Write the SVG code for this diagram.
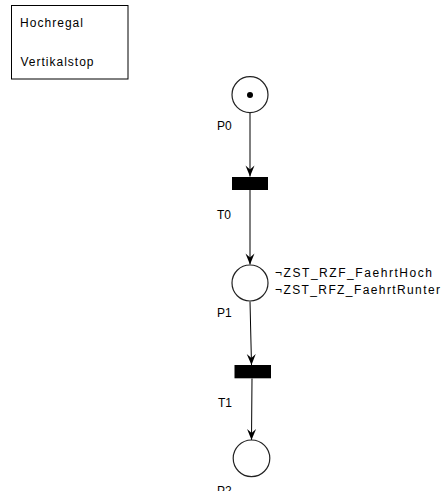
<svg xmlns="http://www.w3.org/2000/svg" width="447" height="491" viewBox="0 0 447 491">
<style>
text{font-family:"Liberation Sans",Arial,sans-serif;font-size:12px;fill:#000}
.place{fill:#fff;stroke:#222;stroke-width:1.2}
.trans{fill:#000}
.arc{stroke:#000;stroke-width:1;fill:none;marker-end:url(#arr)}
</style>
<defs>
<marker id="arr" markerUnits="userSpaceOnUse" viewBox="-12 -6 13 12" refX="0" refY="0" markerWidth="13" markerHeight="12" orient="auto">
<path d="M0,0 L-11,-4.5 L-7,0 L-11,4.5 Z" fill="#000"/>
</marker>
</defs>
<rect width="447" height="491" fill="#fff"/>
<g id="legend">
<rect x="11.5" y="5.5" width="116.5" height="73.5" fill="#fff" stroke="#000" stroke-width="1"/>
<text x="20" y="27" textLength="63" lengthAdjust="spacing">Hochregal</text>
<text x="20.5" y="66" textLength="73" lengthAdjust="spacing">Vertikalstop</text>
</g>
<g id="connectors">
<line class="arc" x1="250" y1="113" x2="250" y2="176.5"/>
<line class="arc" x1="250" y1="190" x2="250" y2="264.5"/>
<line class="arc" x1="250" y1="301.5" x2="251.5" y2="365"/>
<line class="arc" x1="252" y1="378.5" x2="251.5" y2="440"/>
</g>
<g id="P0">
<circle class="place" cx="250" cy="94.7" r="18"/>
<circle cx="250" cy="95" r="3" fill="#000"/>
<text x="217" y="130">P0</text>
</g>
<g id="T0">
<rect class="trans" x="232" y="177" width="36" height="13"/>
<text x="217" y="219">T0</text>
</g>
<g id="P1">
<circle class="place" cx="250" cy="283" r="18"/>
<text x="217" y="317">P1</text>
<text x="275" y="277" textLength="157" lengthAdjust="spacing">¬ZST_RZF_FaehrtHoch</text>
<text x="275" y="293.5" textLength="165" lengthAdjust="spacing">¬ZST_RFZ_FaehrtRunter</text>
</g>
<g id="T1">
<rect class="trans" x="234.5" y="365" width="36.5" height="13.3"/>
<text x="218" y="407">T1</text>
</g>
<g id="P2">
<circle class="place" cx="251.5" cy="458.3" r="18.3"/>
<text x="217" y="495">P2</text>
</g>
</svg>
